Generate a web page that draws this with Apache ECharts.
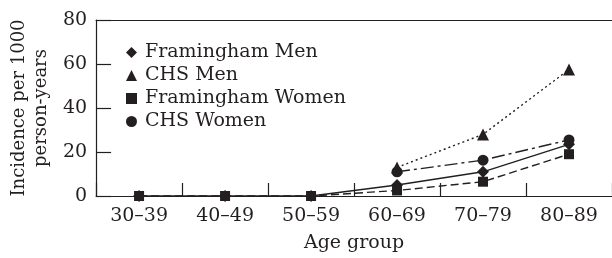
<!DOCTYPE html>
<html>
<head>
<meta charset="utf-8">
<script src="https://cdn.jsdelivr.net/npm/echarts@6/dist/echarts.min.js"></script>
<style>
  html, body { margin: 0; padding: 0; background: #fff; }
  #chart { width: 612px; height: 258px; }
</style>
</head>
<body>
<div id="chart"></div>
<script>
// age groups on the x axis
const ageGroups = ['30–39', '40–49', '50–59', '60–69', '70–79', '80–89']

// incidence per 1000 person-years
const framinghamMen = [0, 0, 0, 5, 11, 23.5]
const chsMen = [null, null, null, 13, 28, 57.5]
const framinghamWomen = [0, 0, 0, 2.5, 6.5, 19]
const chsWomen = [null, null, null, 11, 16.3, 25.5]

const ink = '#231f20'
const serif = 'DejaVu Serif'

const chart = echarts.init(document.getElementById('chart'))

function lineSeries(name, data, symbol, size, dash) {
  return {
    name: name,
    type: 'line',
    data: data,
    symbol: symbol,
    symbolSize: size,
    itemStyle: { color: ink },
    lineStyle: { color: ink, width: 1.4, type: dash },
    connectNulls: false,
    animation: false
  }
}

chart.setOption({
  animation: false,
  textStyle: { fontFamily: serif, color: ink },
  grid: { left: 96, top: 20, width: 520, height: 179 },
  legend: {
    left: 121,
    top: 38,
    orient: 'vertical',
    itemWidth: 11,
    itemHeight: 11,
    itemGap: 4,
    selectedMode: false,
    textStyle: { fontFamily: serif, fontSize: 19, color: ink, lineHeight: 19, padding: [0, 0, 0, 3] },
    data: [
      { name: 'Framingham Men', icon: 'diamond' },
      { name: 'CHS Men', icon: 'triangle' },
      { name: 'Framingham Women', icon: 'rect' },
      { name: 'CHS Women', icon: 'circle' }
    ]
  },
  xAxis: [
    {
      type: 'category',
      data: ageGroups,
      boundaryGap: true,
      name: 'Age group',
      nameLocation: 'middle',
      nameGap: 38,
      nameTextStyle: { fontFamily: serif, fontSize: 19, color: ink },
      axisLine: { show: true, lineStyle: { color: ink, width: 1.2 } },
      axisTick: { show: true, inside: true, length: 13, lineStyle: { color: ink, width: 1.2 } },
      axisLabel: { fontFamily: serif, fontSize: 19, color: ink, margin: 11 },
      splitLine: { show: false }
    },
    {
      // top frame line
      type: 'category',
      data: ageGroups,
      position: 'top',
      axisLine: { show: true, lineStyle: { color: ink, width: 1.2 } },
      axisTick: { show: false },
      axisLabel: { show: false }
    }
  ],
  yAxis: {
    type: 'value',
    min: 0,
    max: 80,
    interval: 20,
    name: 'Incidence per 1000\nperson-years',
    nameLocation: 'middle',
    nameGap: 40,
    nameTextStyle: { fontFamily: serif, fontSize: 18, color: ink, lineHeight: 22 },
    axisLine: { show: true, lineStyle: { color: ink, width: 1.2 } },
    axisTick: { show: true, inside: true, length: 15, lineStyle: { color: ink, width: 1.2 } },
    axisLabel: { fontFamily: serif, fontSize: 19, color: ink, margin: 9 },
    splitLine: { show: false }
  },
  series: [
    lineSeries('Framingham Men', framinghamMen, 'diamond', 12, 'solid'),
    lineSeries('CHS Men', chsMen, 'triangle', 12, [2, 3]),
    lineSeries('CHS Women', chsWomen, 'circle', 11, [13, 4, 3, 4]),
    lineSeries('Framingham Women', framinghamWomen, 'rect', 10, [8, 4])
  ]
})
</script>
</body>
</html>
